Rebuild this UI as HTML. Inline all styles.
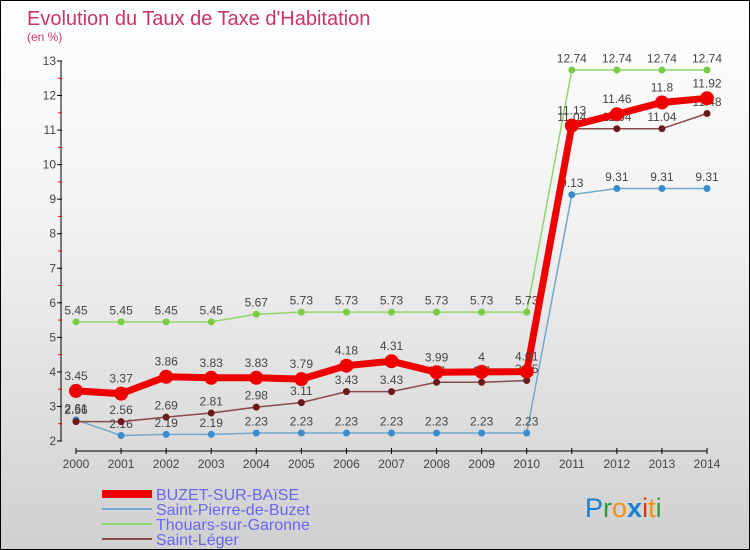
<!DOCTYPE html>
<html><head><meta charset="utf-8"><style>
body{margin:0}
#wrap{position:relative;width:748px;height:548px;border:1px solid #000;background:linear-gradient(#fff,#f2f2f2 40%,#d0d0d0);font-family:"Liberation Sans",sans-serif;overflow:hidden}
</style></head><body>
<div id="wrap">
<svg id="svg" width="748" height="548">
<text x="26" y="24" font-size="20" fill="#cc3366">Evolution du Taux de Taxe d'Habitation</text>
<text x="26" y="40" font-size="12" fill="#cc3366">(en %)</text>
<g id="axes"></g><g id="series"></g>
<g>
<line x1="101" y1="493" x2="151" y2="493" stroke="#e00" stroke-width="8"/>
<text x="155" y="499" font-size="16" fill="#6666ee">BUZET-SUR-BAïSE</text>
<line x1="101" y1="508" x2="151" y2="508" stroke="#6fa8d0" stroke-width="2"/>
<text x="155" y="514" font-size="16" fill="#6666ee">Saint-Pierre-de-Buzet</text>
<line x1="101" y1="523" x2="151" y2="523" stroke="#8fd66a" stroke-width="2"/>
<text x="155" y="529" font-size="16" fill="#6666ee">Thouars-sur-Garonne</text>
<line x1="101" y1="538" x2="151" y2="538" stroke="#8b4a4a" stroke-width="2"/>
<text x="155" y="544" font-size="16" fill="#6666ee">Saint-Léger</text>
</g>
<text x="584" y="516" font-size="27"><tspan fill="#1a7fd0">P</tspan><tspan fill="#2a9a3a">r</tspan><tspan fill="#f39010">o</tspan><tspan fill="#1a7fd0" font-weight="bold">x</tspan><tspan fill="#e03010">i</tspan><tspan fill="#f39010">t</tspan><tspan fill="#2a9a3a">i</tspan></text>
</svg></div>
<script>
const years=[2000,2001,2002,2003,2004,2005,2006,2007,2008,2009,2010,2011,2012,2013,2014];
const buzet=[3.45,3.37,3.86,3.83,3.83,3.79,4.18,4.31,3.99,4,4.01,11.13,11.46,11.8,11.92];
const stPierre=[2.61,2.16,2.19,2.19,2.23,2.23,2.23,2.23,2.23,2.23,2.23,9.13,9.31,9.31,9.31];
const thouars=[5.45,5.45,5.45,5.45,5.67,5.73,5.73,5.73,5.73,5.73,5.73,12.74,12.74,12.74,12.74];
const stLeger=[2.56,2.56,2.69,2.81,2.98,3.11,3.43,3.43,3.7,3.7,3.75,11.04,11.04,11.04,11.48];
const yTicks=[2,3,4,5,6,7,8,9,10,11,12,13];
const NS="http://www.w3.org/2000/svg";
const X=i=>75+i*(706-75)/(years.length-1);
const Y=v=>440-(v-2)*(440-60)/11;
function mk(t,a,p){const e=document.createElementNS(NS,t);for(const k in a)e.setAttribute(k,a[k]);p.appendChild(e);return e;}
const ax=document.getElementById('axes');
const yl=mk('line',{x1:60,y1:60,x2:60,y2:440,stroke:'#000'},ax);


const xl=mk('line',{x1:75,y1:450,x2:706,y2:450,stroke:'#000'},ax);


yTicks.forEach(v=>{mk('line',{x1:56,y1:Y(v),x2:61,y2:Y(v),stroke:'#000'},ax);
 if(v<13)mk('line',{x1:57,y1:Y(v+0.5),x2:61,y2:Y(v+0.5),stroke:'#e00'},ax);
 const t=mk('text',{x:55,y:Y(v)+4,'font-size':12,fill:'#444','text-anchor':'end'},ax);t.textContent=v;
 
 });
years.forEach((y,i)=>{mk('line',{x1:X(i),y1:447,x2:X(i),y2:453,stroke:'#000'},ax);
 const t=mk('text',{x:X(i),y:467,'font-size':12,fill:'#444','text-anchor':'middle'},ax);t.textContent=y;
 
 });
const sg=document.getElementById('series');
function draw(vals,col,dot,w,r,name){const g=mk('g',{},sg);
 
 
 mk('polyline',{points:vals.map((v,i)=>X(i)+','+Y(v)).join(' '),fill:'none',stroke:col,'stroke-width':w},g);
 vals.forEach((v,i)=>{const c=mk('circle',{cx:X(i),cy:Y(v),r:r,fill:dot},g);
  
  
  const t=mk('text',{x:X(i),y:Y(v)-r-4,'font-size':12,fill:'#444','text-anchor':'middle'},g);t.textContent=v;});}
draw(thouars,'#8fd66a','#7acc44',1.5,3.5,'series-thouars');
draw(stPierre,'#6fa8d0','#3a8ccc',1.5,3.5,'series-saint-pierre');
draw(stLeger,'#8b4a4a','#6a1a1a',1.5,3.5,'series-saint-leger');
draw(buzet,'#e00','#e00',7,7,'series-buzet');
</script></body></html>
